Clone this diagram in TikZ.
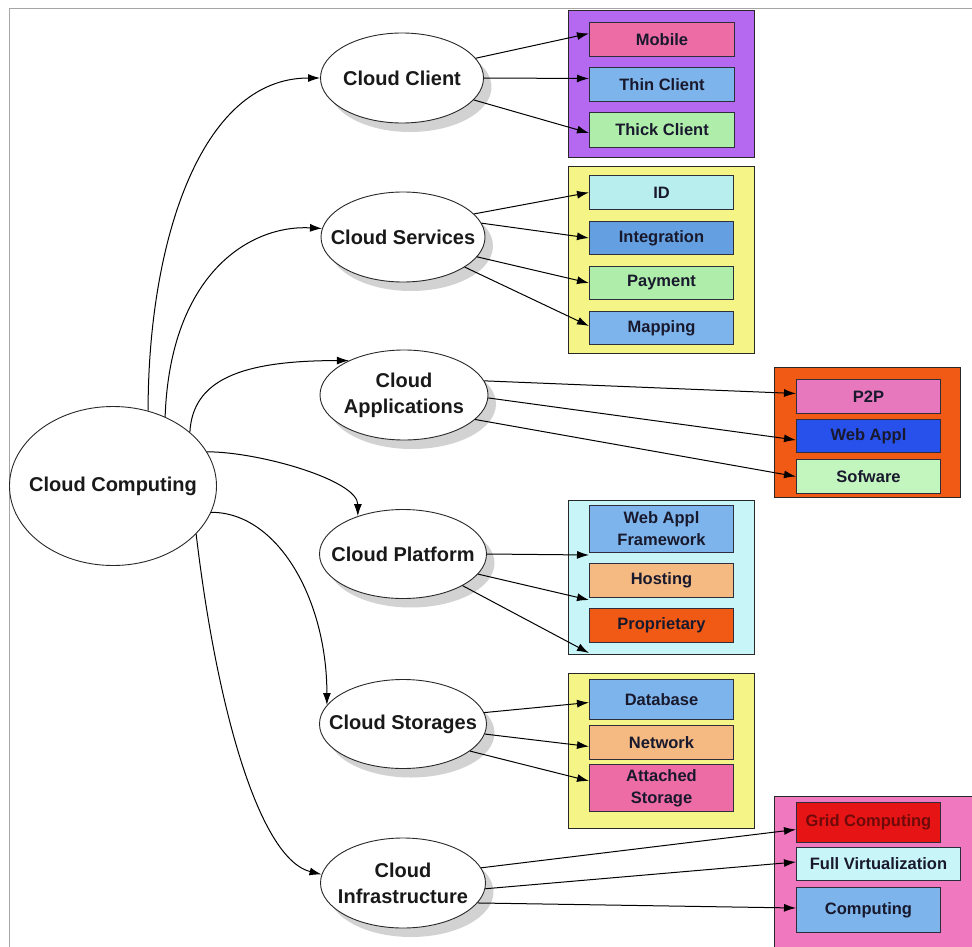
\documentclass[tikz,border=0pt]{standalone}
\usepackage{fontspec}
\setmainfont{Liberation Sans}
\usetikzlibrary{arrows.meta,shadows,shapes.geometric}

\definecolor{framegray}{RGB}{165,165,165}
\definecolor{edge}{RGB}{40,40,40}
\definecolor{boxline}{RGB}{45,45,60}
\definecolor{ink}{RGB}{25,25,45}
\definecolor{gridink}{RGB}{110,10,10}
\definecolor{cpurple}{RGB}{180,105,240}
\definecolor{cyellow}{RGB}{245,245,135}
\definecolor{corange}{RGB}{240,90,20}
\definecolor{ccyan}{RGB}{200,245,248}
\definecolor{cpink}{RGB}{240,120,190}
\definecolor{bpink}{RGB}{238,108,165}
\definecolor{bblue}{RGB}{125,180,235}
\definecolor{bbluedark}{RGB}{100,160,225}
\definecolor{bgreen}{RGB}{175,238,170}
\definecolor{bgreenlight}{RGB}{195,245,190}
\definecolor{bcyan}{RGB}{185,238,238}
\definecolor{bmagenta}{RGB}{232,120,190}
\definecolor{broyal}{RGB}{40,80,235}
\definecolor{bpeach}{RGB}{245,185,130}
\definecolor{bred}{RGB}{230,20,20}

\begin{document}
\begin{tikzpicture}[x=1pt,y=-1pt,
  bubble/.style={ellipse, draw=edge, line width=0.9pt, fill=white, inner sep=0pt},
  shadowed/.style={drop shadow={shadow xshift=8pt, shadow yshift=-9pt, fill=black!35, opacity=0.5}},
  bubbletext/.style={font=\fontsize{20}{26}\selectfont\bfseries, text=black!90, align=center, inner sep=0pt},
  panel/.style={draw=edge, line width=1pt, inner sep=0pt, anchor=north west},
  item/.style={draw=boxline, line width=1pt, inner sep=0pt, anchor=north west,
    font=\fontsize{16.5}{22}\selectfont\bfseries, text=ink, align=center},
  link/.style={draw=black, line width=1pt, -{Latex[length=12pt,width=8pt]}}
]
\useasboundingbox (0,0) rectangle (972,947);
\fill[white] (0,0) rectangle (972,947);
\draw[framegray, line width=0.8pt] (9,8) rectangle (990,970);

% ---- category panels and their items ----
\node[panel, fill=cpurple, minimum width=186pt, minimum height=147pt] (pclient) at (568,10) {};
\node[item, fill=bpink, minimum width=145pt, minimum height=34pt] (mobile) at (589,22) {Mobile};
\node[item, fill=bblue, minimum width=145pt, minimum height=34pt] (thin) at (589,67) {Thin Client};
\node[item, fill=bgreen, minimum width=145pt, minimum height=35pt] (thick) at (589,112) {Thick Client};

\node[panel, fill=cyellow, minimum width=186pt, minimum height=187pt] (pservices) at (568,166) {};
\node[item, fill=bcyan, minimum width=144pt, minimum height=34pt] (id) at (589,175) {ID};
\node[item, fill=bbluedark, minimum width=144pt, minimum height=33pt] (integ) at (589,221) {Integration};
\node[item, fill=bgreen, minimum width=144pt, minimum height=33pt] (pay) at (589,266) {Payment};
\node[item, fill=bblue, minimum width=144pt, minimum height=33pt] (map) at (589,311) {Mapping};

\node[panel, fill=corange, minimum width=186pt, minimum height=130pt] (papps) at (774,367) {};
\node[item, fill=bmagenta, minimum width=144pt, minimum height=34pt] (ptp) at (796,379) {P2P};
\node[item, fill=broyal, minimum width=144pt, minimum height=33pt] (webappl) at (796,419) {Web Appl};
\node[item, fill=bgreenlight, minimum width=144pt, minimum height=34pt] (sofware) at (796,459) {Sofware};

\node[panel, fill=ccyan, minimum width=186pt, minimum height=154pt] (pplatform) at (568,500) {};
\node[item, fill=bblue, minimum width=144pt, minimum height=47pt] (waf) at (589,505) {Web Appl\\Framework};
\node[item, fill=bpeach, minimum width=144pt, minimum height=34pt] (host) at (589,563) {Hosting};
\node[item, fill=corange, minimum width=144pt, minimum height=34pt] (prop) at (589,608) {Proprietary};

\node[panel, fill=cyellow, minimum width=186pt, minimum height=155pt] (pstorage) at (568,673) {};
\node[item, fill=bblue, minimum width=144pt, minimum height=40pt] (db) at (589,679) {Database};
\node[item, fill=bpeach, minimum width=144pt, minimum height=34pt] (net) at (589,725) {Network};
\node[item, fill=bpink, minimum width=144pt, minimum height=47pt] (att) at (589,764) {Attached\\Storage};

\node[panel, fill=cpink, minimum width=200pt, minimum height=170pt] (pinfra) at (774,796) {};
\node[item, fill=bred, text=gridink, minimum width=144pt, minimum height=40pt] (grid) at (796,802) {Grid Computing};
\node[item, fill=ccyan, minimum width=164pt, minimum height=33pt] (fullv) at (796,847) {Full Virtualization};
\node[item, fill=bblue, minimum width=144pt, minimum height=45pt] (comp) at (796,887) {Computing};

% ---- ellipses ----
\node[bubble, minimum width=207pt, minimum height=159pt] (cc) at (113,486) {};
\node[bubbletext] (cct) at (113,486) {Cloud Computing};

\node[bubble, shadowed, minimum width=163pt, minimum height=90pt] (client) at (402,78) {};
\node[bubbletext] (clientt) at (402,78) {Cloud Client};

\node[bubble, shadowed, minimum width=164pt, minimum height=90pt] (services) at (403,237) {};
\node[bubbletext] (servicest) at (403,237) {Cloud Services};

\node[bubble, shadowed, minimum width=168pt, minimum height=90pt] (apps) at (404,395) {};
\node[bubbletext] (appst) at (404,395) {Cloud\\Applications};

\node[bubble, shadowed, minimum width=167pt, minimum height=89pt] (platform) at (403,554) {};
\node[bubbletext] (platformt) at (403,554) {Cloud Platform};

\node[bubble, shadowed, minimum width=167pt, minimum height=89pt] (storage) at (403,724) {};
\node[bubbletext] (storaget) at (403,724) {Cloud Storages};

\node[bubble, shadowed, minimum width=165pt, minimum height=90pt] (infra) at (403,883) {};
\node[bubbletext] (infrat) at (403,883) {Cloud\\Infrastructure};

% ---- curved connectors from the root ----
\draw[link] (cc.65) .. controls +(0,-165) and +(-121,0) .. (client.west);
\draw[link] (cc.53) .. controls +(5,-143) and +(-72,-4) .. (services.174);
\draw[link] (cc.35) .. controls +(3,-52) and +(-109,0) .. (apps.148);
\draw[link] (cc.20) .. controls +(52,0) and +(0,-36) .. (platform.140);
\draw[link] (cc.-15) .. controls +(67,0) and +(0,-105) .. (storage.166);
\draw[link] (cc.-30) .. controls +(22,185) and +(-60,-15) .. (infra.174);

% ---- straight connectors to items ----
\draw[link] (client.15) -- ([yshift=6pt]mobile.west);
\draw[link] (client.east) -- ([yshift=6pt]thin.west);
\draw[link] (client.-17) -- ([yshift=-3pt]thick.west);

\draw[link] (services.18) -- (id.west);
\draw[link] (services.10) -- (integ.west);
\draw[link] (services.-15) -- (pay.west);
\draw[link] (services.-26) -- ([yshift=2pt]map.west);

\draw[link] (apps.10) -- ([yshift=3pt]ptp.west);
\draw[link] (apps.-2) -- ([yshift=-4pt]webappl.west);
\draw[link] (apps.-19) -- (sofware.west);

\draw[link] (platform.east) -- ([yshift=-2pt]waf.south west);
\draw[link] (platform.-15) -- ([yshift=-2pt]host.south west);
\draw[link] (platform.-28) -- ([yshift=-10pt]prop.south west);

\draw[link] (storage.8) -- ([yshift=-3pt]db.west);
\draw[link] (storage.-7) -- ([yshift=-4pt]net.west);
\draw[link] (storage.-22) -- ([yshift=7pt]att.west);

\draw[link] (infra.11) -- ([yshift=-7pt]grid.west);
\draw[link] (infra.-4) -- ([yshift=2pt]fullv.west);
\draw[link] (infra.-15) -- ([yshift=2pt]comp.west);
\end{tikzpicture}
\end{document}
